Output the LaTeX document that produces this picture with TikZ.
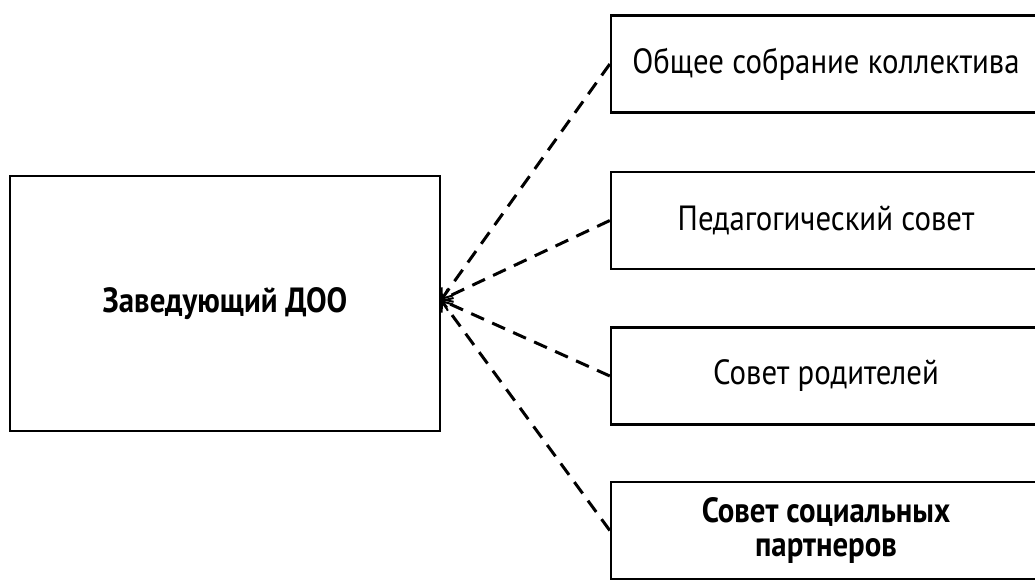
\documentclass[tikz,border=0pt]{standalone}
\usepackage{fontspec}
\setmainfont[FakeStretch=0.88]{PT Sans}
\usetikzlibrary{arrows.meta}
\begin{document}
\begin{tikzpicture}[x=1pt,y=-1pt,
  box/.style={draw, line width=2.4pt, inner sep=0pt, align=center, font=\fontsize{35}{34}\selectfont},
  rbox/.style={box, minimum width=430pt, minimum height=97pt},
  conn/.style={line width=3pt, dash pattern=on 14pt off 9pt, -{Straight Barb[length=9pt,width=14pt,line width=2pt]}}]
\useasboundingbox (0,0) rectangle (1035,581);
\node[box, minimum width=430pt, minimum height=255pt, font=\fontsize{35}{34}\selectfont\bfseries] (L) at (225,303.5) {Заведующий ДОО};
\node[rbox] (b1) at (826,64) {Общее собрание коллектива};
\node[rbox] (b2) at (826,220.5) {Педагогический совет};
\node[rbox] (b3) at (826,376) {Совет родителей};
\node[rbox, font=\fontsize{35}{34}\selectfont\bfseries] (b4) at (826,530.5) {Совет социальных\\партнеров};
\coordinate (hub) at (441,300);
\draw[conn] (b1.west) -- (hub);
\draw[conn] (b2.west) -- (hub);
\draw[conn] (b3.west) -- (hub);
\draw[conn] (b4.west) -- (hub);
\end{tikzpicture}
\end{document}
